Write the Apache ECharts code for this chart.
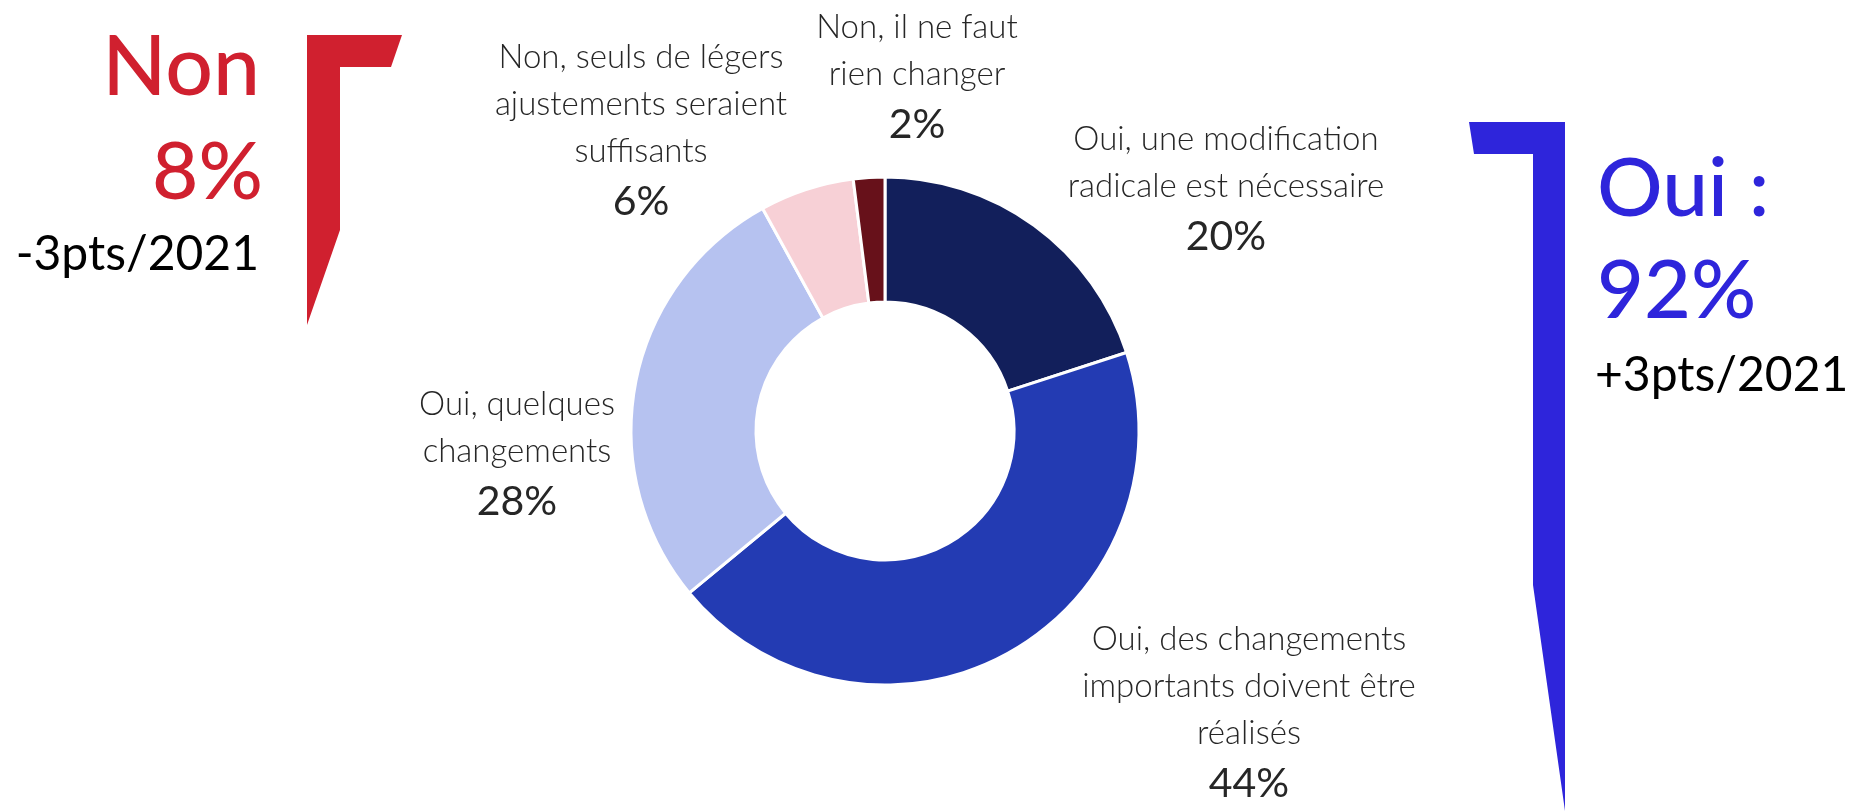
<!DOCTYPE html>
<html>
<head>
<meta charset="utf-8">
<script src="https://cdn.jsdelivr.net/npm/echarts@6/dist/echarts.min.js"></script>
<style>
html,body{margin:0;padding:0;background:#fff;}
#chart{width:1849px;height:811px;}
</style>
</head>
<body>
<div id="chart"></div>
<script>
// ---- data ----
var categories = [
  'Oui, une modification\nradicale est nécessaire',
  'Oui, des changements\nimportants doivent être\nréalisés',
  'Oui, quelques\nchangements',
  'Non, seuls de légers\najustements seraient\nsuffisants',
  'Non, il ne faut\nrien changer'
];
var values = [20, 44, 28, 6, 2];
var sliceColors = ['#121f5b', '#233bb3', '#b6c2f0', '#f7d0d6', '#67111a'];

var nonTitle = 'Non';
var nonTotal = 8;
var nonDelta = '-3pts/2021';
var ouiTitle = 'Oui :';
var ouiTotal = 92;
var ouiDelta = '+3pts/2021';

// ---- layout (label block anchors: centre x, top y) ----
var labelAnchors = [[1226, 116], [1249, 616], [517, 381], [641, 34], [917, 4]];

var FONT = 'Lato, "Open Sans", sans-serif';
var RED = '#d0202f';
var BLUE = '#2e25db';

var chart = echarts.init(document.getElementById('chart'), null, {renderer: 'canvas'});

var pieData = categories.map(function (c, i) {
  return {name: c, value: values[i], itemStyle: {color: sliceColors[i]}};
});

var option = {
  backgroundColor: '#ffffff',
  animation: false,
  series: [{
    type: 'pie',
    center: [885, 431],
    radius: [129, 254],
    startAngle: 90,
    clockwise: true,
    avoidLabelOverlap: false,
    itemStyle: {borderColor: '#ffffff', borderWidth: 3},
    label: {
      show: true,
      position: 'outside',
      formatter: function (p) {
        var lines = p.name.split('\n').map(function (l) { return '{n|' + l + '}'; });
        lines.push('{p|' + p.value + '%}');
        return lines.join('\n');
      },
      align: 'center',
      rich: {
        n: {fontFamily: FONT, fontSize: 33, fontWeight: 300, color: '#262626', lineHeight: 47, align: 'center'},
        p: {fontFamily: FONT, fontSize: 41, fontWeight: 400, color: '#262626', lineHeight: 54, align: 'center'}
      }
    },
    labelLine: {show: false},
    labelLayout: function (params) {
      var a = labelAnchors[params.dataIndex];
      return {x: a[0], y: a[1], align: 'center', verticalAlign: 'top'};
    },
    data: pieData
  }],
  graphic: [
    {
      type: 'polygon',
      shape: {points: [[307, 35], [402, 35], [391, 67], [340, 67], [340, 230], [307, 325]]},
      style: {fill: RED}
    },
    {
      type: 'polygon',
      shape: {points: [[1469, 122], [1565, 122], [1565, 811], [1533, 585], [1533, 154], [1474, 154]]},
      style: {fill: BLUE}
    },
    {type: 'text', x: 260, y: 68, style: {text: nonTitle, fill: RED, font: '500 84px ' + FONT, align: 'right', verticalAlign: 'middle'}},
    {type: 'text', x: 263, y: 173, style: {text: nonTotal + '%', fill: RED, font: '500 80px ' + FONT, align: 'right', verticalAlign: 'middle'}},
    {type: 'text', x: 259, y: 255, style: {text: nonDelta, fill: '#000000', font: '400 48px ' + FONT, align: 'right', verticalAlign: 'middle'}},
    {type: 'text', x: 1597, y: 190, style: {text: ouiTitle, fill: BLUE, font: '500 82px ' + FONT, align: 'left', verticalAlign: 'middle'}},
    {type: 'text', x: 1597, y: 292, style: {text: ouiTotal + '%', fill: BLUE, font: '500 81px ' + FONT, align: 'left', verticalAlign: 'middle'}},
    {type: 'text', x: 1595, y: 376, style: {text: ouiDelta, fill: '#000000', font: '400 48px ' + FONT, align: 'left', verticalAlign: 'middle'}}
  ]
};
chart.setOption(option);
</script>
</body>
</html>
